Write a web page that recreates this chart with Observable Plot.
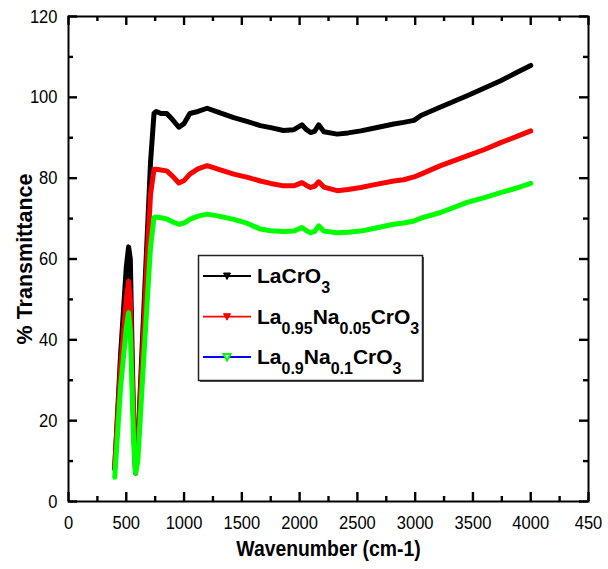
<!DOCTYPE html>
<html><head><meta charset="utf-8">
<script src="https://cdn.jsdelivr.net/npm/d3@7"></script>
<script src="https://cdn.jsdelivr.net/npm/@observablehq/plot@0.6"></script>
<style>
html,body{margin:0;padding:0;background:#fff;overflow:hidden}
#chart{position:relative;width:608px;height:569px}
</style></head>
<body><div id="chart"></div>
<script>
// ---- data ----
const wavenumber = [400, 450, 500, 520, 535, 550, 565, 580, 600, 640, 680, 710, 740, 760, 800, 850, 900, 955, 1000, 1050, 1120, 1200, 1300, 1430, 1550, 1660, 1750, 1860, 1950, 2020, 2060, 2095, 2130, 2165, 2210, 2325, 2420, 2530, 2650, 2815, 2900, 2990, 3050, 3220, 3450, 3600, 3740, 3870, 4000];
const laCrO3 = [8, 36, 58, 63, 60, 38, 18, 7, 14, 40, 65, 84, 96, 96.5, 96, 96, 94.5, 92.6, 93.5, 96, 96.5, 97.3, 96.3, 95, 94, 93, 92.5, 91.8, 92, 93.2, 92, 91.3, 91.6, 93.2, 91.5, 90.9, 91.2, 91.7, 92.4, 93.4, 93.8, 94.3, 95.5, 97.6, 100.4, 102.3, 104.1, 106, 107.9];
const laNa005 = [9, 33, 50, 54.5, 50, 33, 17, 8, 14, 36, 60, 76, 82.2, 82.2, 82, 81.8, 80.5, 78.8, 79.4, 81, 82.3, 83.1, 82.2, 81, 80.2, 79.3, 78.7, 78.1, 78.1, 78.9, 78.2, 77.7, 78, 79.1, 77.8, 76.9, 77.2, 77.7, 78.4, 79.3, 79.6, 80.3, 81, 83.1, 85.5, 87.1, 88.8, 90.2, 91.7];
const laNa01 = [6, 28, 43, 46.7, 42, 28, 14, 7, 10, 30, 49, 63, 70.3, 70.4, 70.2, 69.9, 69.2, 68.6, 68.9, 69.8, 70.6, 71.1, 70.6, 69.8, 68.8, 67.4, 67, 66.8, 66.9, 67.8, 67, 66.5, 66.8, 68.2, 66.9, 66.5, 66.6, 66.9, 67.6, 68.6, 68.9, 69.4, 70.1, 71.5, 74, 75.2, 76.4, 77.5, 78.7];

const seriesNames = ["LaCrO3", "La0.95Na0.05CrO3", "La0.9Na0.1CrO3"];
const seriesColors = ["#000000", "#ff0000", "#00ff00"];
const legendLineColors = ["#000000", "#ff0000", "#0000ff"];
const legendParts = [
  [["La", 0], ["Cr", 0], ["O", 0], ["3", 1]],
  [["La", 0], ["0.95", 1], ["Na", 0], ["0.05", 1], ["CrO", 0], ["3", 1]],
  [["La", 0], ["0.9", 1], ["Na", 0], ["0.1", 1], ["CrO", 0], ["3", 1]]
];

const xTicks = [0, 500, 1000, 1500, 2000, 2500, 3000, 3500, 4000, 4500];
const xTickLabels = ["0", "500", "1000", "1500", "2000", "2500", "3000", "3500", "4000", "450"];
const xMinorTicks = [250, 750, 1250, 1750, 2250, 2750, 3250, 3750, 4250];
const yTicks = [0, 20, 40, 60, 80, 100, 120];
const yMinorTicks = [10, 30, 50, 70, 90, 110];
const xTitle = "Wavenumber (cm-1)";
const yTitle = "% Transmittance";

// ---- build table ----
const values = [laCrO3, laNa005, laNa01];
const rows = values.flatMap((arr, s) => arr.map((t, i) => ({series: seriesNames[s], wn: wavenumber[i], t})));

const font = "'Liberation Sans', Arial, sans-serif";
const fmtX = d => xTickLabels[xTicks.indexOf(d)];

const W = 608, H = 569, ML = 68, MR = 20, MT = 16, MB = 68;
const innerW = W - ML - MR, innerH = H - MT - MB;
const major = 9, minor = 5;
const tk = {stroke: "#000", strokeWidth: 2.4};

const chart = Plot.plot({
  width: W, height: H,
  marginLeft: ML, marginRight: MR, marginTop: MT, marginBottom: MB,
  style: {background: "#fff", color: "#000", overflow: "visible"},
  x: {domain: [0, 4500]},
  y: {domain: [0, 120]},
  color: {domain: seriesNames, range: seriesColors},
  marks: [
    Plot.line(rows, {x: "wn", y: "t", stroke: "series", strokeWidth: 5, strokeLinejoin: "round", strokeLinecap: "round"}),
    Plot.axisX({ticks: xTicks, tickSize: 0, tickPadding: 14, tickFormat: fmtX, fontSize: 19, fontFamily: font, label: null}),
    Plot.axisY({ticks: yTicks, tickSize: 0, tickPadding: 11, fontSize: 19, fontFamily: font, label: null}),
    // inward ticks: short rules from each frame edge
    Plot.ruleX(xTicks, {x: d => d, y1: 0, y2: 120 * major / innerH, ...tk}),
    Plot.ruleX(xMinorTicks, {x: d => d, y1: 0, y2: 120 * minor / innerH, ...tk}),
    Plot.ruleX(xTicks, {x: d => d, y1: 120, y2: 120 - 120 * major / innerH, ...tk}),
    Plot.ruleX(xMinorTicks, {x: d => d, y1: 120, y2: 120 - 120 * minor / innerH, ...tk}),
    Plot.ruleY(yTicks, {y: d => d, x1: 0, x2: 4500 * major / innerW, ...tk}),
    Plot.ruleY(yMinorTicks, {y: d => d, x1: 0, x2: 4500 * minor / innerW, ...tk}),
    Plot.ruleY(yTicks, {y: d => d, x1: 4500, x2: 4500 - 4500 * major / innerW, ...tk}),
    Plot.ruleY(yMinorTicks, {y: d => d, x1: 4500, x2: 4500 - 4500 * minor / innerW, ...tk}),
    Plot.frame({stroke: "#000", strokeWidth: 2}),
    Plot.text([xTitle], {text: d => d, frameAnchor: "bottom", dy: 47, lineAnchor: "middle", textAnchor: "middle", fontSize: 22, fontWeight: "bold", fontFamily: font}),
    Plot.text([yTitle], {text: d => d, frameAnchor: "left", dx: -43, rotate: -90, lineAnchor: "middle", textAnchor: "middle", fontSize: 21.5, fontWeight: "bold", fontFamily: font})
  ]
});

const svg = d3.select(chart);

// condensed look of the reference's Arial text: squeeze axis tick labels and x title horizontally
function squeeze(sel, k) {
  sel.each(function () {
    const ax = +this.getAttribute("x") || 0;
    const tr = this.getAttribute("transform") || "";
    this.setAttribute("transform", `${tr} translate(${ax},0) scale(${k},1) translate(${-ax},0)`);
  });
}
squeeze(svg.selectAll('g[aria-label="x-axis tick label"] text, g[aria-label="y-axis tick label"] text'), 0.87);
squeeze(svg.selectAll("g[aria-label='text'] text").filter(function () { return this.textContent === xTitle; }), 0.88);

// ---- legend (inside plot area) ----
const lg = svg.append("g").attr("text-anchor", "start");
lg.append("rect").attr("x", 200).attr("y", 257).attr("width", 224).attr("height", 125).attr("fill", "#555");
lg.append("rect").attr("x", 198.5).attr("y", 255.5).attr("width", 224).attr("height", 125)
  .attr("fill", "#fff").attr("stroke", "#222").attr("stroke-width", 1.5);
const rowY = [276, 316.7, 357];
seriesNames.forEach((name, i) => {
  const y = rowY[i];
  lg.append("line").attr("x1", 203).attr("x2", 251).attr("y1", y).attr("y2", y)
    .attr("stroke", legendLineColors[i]).attr("stroke-width", 1.8);
  lg.append("path").attr("d", "M-3.5,-3 L3.5,-3 L0,3.5 Z").attr("transform", `translate(227,${y})`)
    .attr("fill", i === 2 ? "#fff" : seriesColors[i]).attr("stroke", seriesColors[i]).attr("stroke-width", i === 2 ? 2 : 1);
  const t = lg.append("text").attr("x", 257).attr("y", y + 7.3).attr("text-anchor", "start")
    .attr("font-family", font).attr("font-weight", "bold").attr("fill", "#000");
  let cur = 0;
  legendParts[i].forEach(([s, sub]) => {
    const target = sub ? 10 : 0;
    t.append("tspan").attr("dy", target - cur).attr("font-size", sub ? 16 : 21).text(s);
    cur = target;
  });
});

document.getElementById("chart").appendChild(chart);
</script>
</body></html>
